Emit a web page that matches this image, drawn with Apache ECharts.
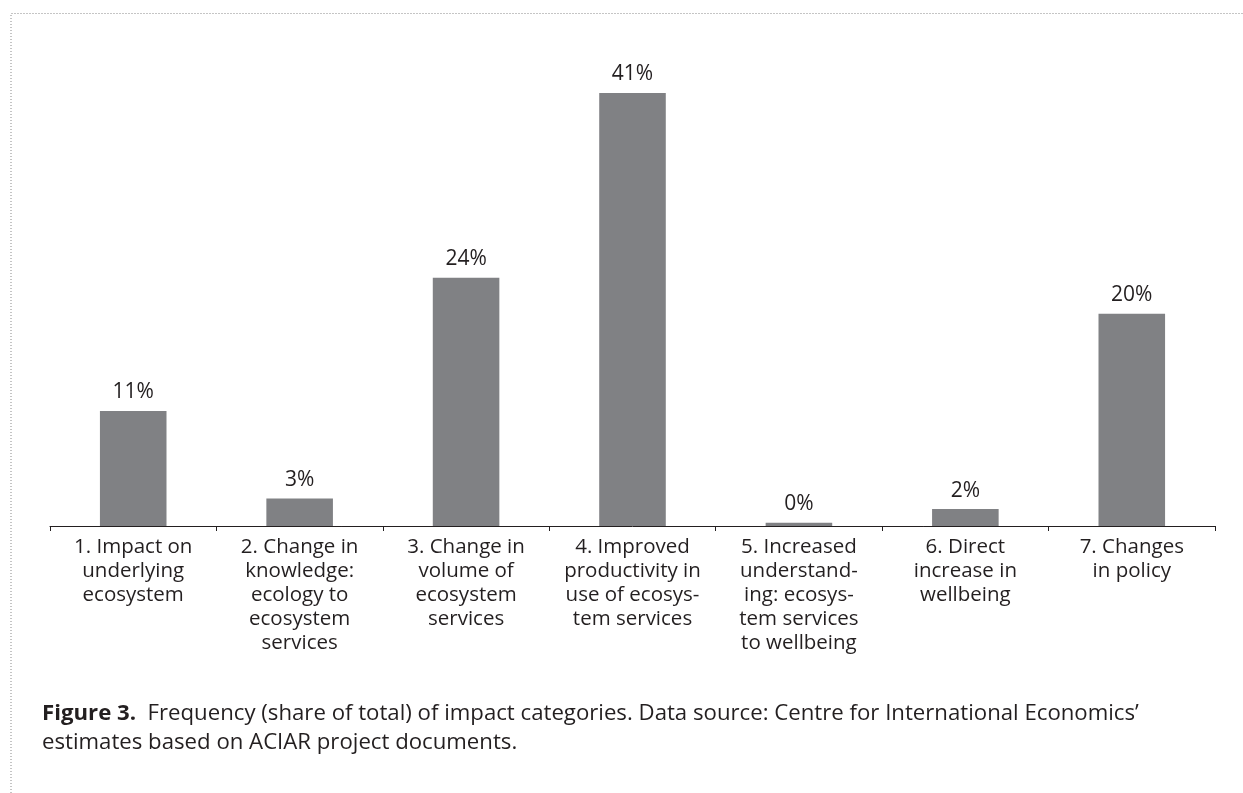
<!DOCTYPE html>
<html><head><meta charset="utf-8">
<script src="https://cdn.jsdelivr.net/npm/echarts@6/dist/echarts.min.js"></script>
<style>html,body{margin:0;padding:0;background:#fff}#c{width:1243px;height:793px}</style>
</head><body><div id="c"></div>
<script>
const categories = [
  "1. Impact on\nunderlying\necosystem",
  "2. Change in\nknowledge:\necology to\necosystem\nservices",
  "3. Change in\nvolume of\necosystem\nservices",
  "4. Improved\nproductivity in\nuse of ecosys-\ntem services",
  "5. Increased\nunderstand-\ning: ecosys-\ntem services\nto wellbeing",
  "6. Direct\nincrease in\nwellbeing",
  "7. Changes\nin policy"
];
const shareValues = [10.9, 2.6, 23.5, 41, 0.3, 1.6, 20.1];
const captionBold = "Figure 3.";
const captionLine1 = "  Frequency (share of total) of impact categories. Data source: Centre for International Economics’";
const captionLine2 = "estimates based on ACIAR project documents.";

const FONT = "Open Sans";
const chart = echarts.init(document.getElementById('c'), null, {renderer: 'canvas'});
chart.setOption({
  animation: false,
  textStyle: {fontFamily: FONT},
  grid: {left: 50, right: 28, top: 93, bottom: 267, containLabel: false},
  xAxis: {
    type: 'category', data: categories,
    axisLine: {lineStyle: {color: '#231f20', width: 1}},
    axisTick: {show: true, alignWithLabel: false, length: 5, lineStyle: {color: '#231f20'}},
    axisLabel: {color: '#231f20', fontSize: 20.5, lineHeight: 24, interval: 0, margin: 9, fontFamily: FONT}
  },
  yAxis: {type: 'value', min: 0, max: 41, show: false, splitLine: {show: false}},
  series: [{
    type: 'bar', data: shareValues, barWidth: '40%',
    itemStyle: {color: '#808184'},
    label: {show: true, position: 'top', distance: 8, color: '#231f20', fontSize: 21, fontFamily: FONT,
      formatter: p => Math.round(p.value) + '%'}
  }],
  graphic: [
    {type: 'polyline', shape: {points: [[11, 793], [11, 13.5], [1243, 13.5]]},
      style: {stroke: '#8a8a8a', lineWidth: 1, lineDash: [1, 2], fill: null}},
    {type: 'text', left: 42, top: 703, style: {
      text: '{b|' + captionBold + '}{n|' + captionLine1 + '}\n{n|' + captionLine2 + '}',
      rich: {
        b: {fontWeight: 'bold', fontSize: 22.2, fontFamily: FONT, fill: '#231f20', lineHeight: 29},
        n: {fontSize: 22.2, fontFamily: FONT, fill: '#231f20', lineHeight: 29}
      }
    }}
  ]
});
</script></body></html>
